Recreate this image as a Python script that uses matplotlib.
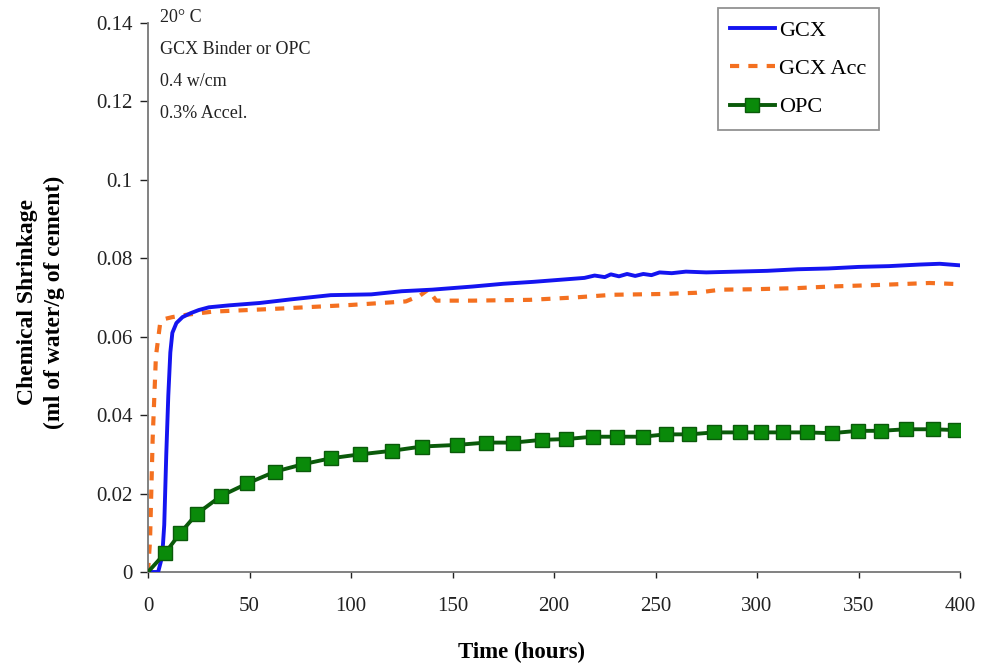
import numpy as np
import matplotlib
matplotlib.use("Agg")
import matplotlib.pyplot as plt

plt.rcParams['font.family'] = ['Liberation Serif', 'DejaVu Serif']

# ---- data ----
gcx_t = [0, 5, 7, 8, 9, 10, 11, 12, 14, 17, 21, 25, 30, 40, 55, 70, 90, 110,
         125, 140, 160, 175, 190, 205, 215, 220, 225, 228, 232, 236, 240, 244,
         248, 252, 258, 265, 275, 290, 305, 320, 335, 350, 365, 380, 390, 400]
gcx_y = [0, 0, 0.004, 0.012, 0.03, 0.045, 0.056, 0.061, 0.0635, 0.065, 0.066,
         0.0668, 0.0675, 0.0680, 0.0686, 0.0695, 0.0706, 0.0708, 0.0716, 0.0720,
         0.0728, 0.0735, 0.0740, 0.0746, 0.0750, 0.0756, 0.0752, 0.0759, 0.0754,
         0.0760, 0.0755, 0.0760, 0.0757, 0.0764, 0.0762, 0.0766, 0.0764, 0.0766,
         0.0768, 0.0772, 0.0774, 0.0778, 0.0780, 0.0784, 0.0786, 0.0782]

acc_t = [0, 1, 2.3, 3.9, 6, 8, 12, 19, 32, 62, 100, 127, 134, 138, 142, 160,
         188, 210, 229, 254, 270, 282, 298, 320, 336, 360, 385, 400]
acc_y = [0, 0.008, 0.034, 0.055, 0.0635, 0.0645, 0.065, 0.0656, 0.0664, 0.0671,
         0.0681, 0.0690, 0.0705, 0.0720, 0.0692, 0.0692, 0.0694, 0.0700, 0.0707,
         0.0709, 0.0712, 0.0720, 0.0721, 0.0724, 0.0728, 0.0732, 0.0737, 0.0734]

opc_t = [0, 8.4, 16, 24, 36, 49, 62.6, 76.5, 90, 104.4, 120, 135, 152, 166.5,
         180, 194, 206, 219, 231, 243.6, 255, 266.6, 279, 291.6, 302, 313,
         324.5, 336.8, 349.6, 361, 373.4, 386.6, 397.5]
opc_y = [0, 0.0048, 0.0100, 0.0148, 0.0194, 0.0226, 0.0256, 0.0275, 0.0290,
         0.0300, 0.0309, 0.0320, 0.0324, 0.0330, 0.0330, 0.0337, 0.0339, 0.0345,
         0.0345, 0.0345, 0.0351, 0.0351, 0.0356, 0.0356, 0.0356, 0.0356, 0.0356,
         0.0354, 0.0360, 0.0360, 0.0364, 0.0364, 0.0362]

x_ticks = [0, 50, 100, 150, 200, 250, 300, 350, 400]
y_ticks = [0, 0.02, 0.04, 0.06, 0.08, 0.1, 0.12, 0.14]
y_tick_labels = ['0', '0.02', '0.04', '0.06', '0.08', '0.1', '0.12', '0.14']
notes = ['20\u00b0 C', 'GCX Binder or OPC', '0.4 w/cm', '0.3% Accel.']

# ---- figure ----
fig = plt.figure(figsize=(9.85, 6.68), dpi=100)
ax = fig.add_axes([148/985, 1 - 572/668, (960-148)/985, (572-23)/668])

ax.plot(gcx_t, gcx_y, color='#1414f0', lw=2.8, label='GCX', zorder=3)
ax.plot(acc_t, acc_y, color='#f47020', lw=3.0, ls=(0, (2.2, 2.2)),
        label='GCX Acc', zorder=2)
ax.plot(opc_t, opc_y, color='#0a5a0a', lw=2.8, marker='s', markersize=10.5,
        markerfacecolor='#0a8a0a', markeredgecolor='#0a5a0a',
        markevery=slice(1, None), label='OPC', zorder=4)

ax.set_xlim(0, 400)
ax.set_ylim(0, 0.14)
ax.set_xticks(x_ticks)
ax.set_yticks(y_ticks)
ax.set_yticklabels(y_tick_labels)
ax.tick_params(labelsize=15, colors='#222222', width=1, direction='out')
ax.tick_params(axis='y', length=6, pad=5)
ax.tick_params(axis='x', length=4, pad=14)
for s in ['top', 'right']:
    ax.spines[s].set_visible(False)
for s in ['left', 'bottom']:
    ax.spines[s].set_color('#777777')
    ax.spines[s].set_linewidth(1.3)

fig.text(522/985, 1 - 652/668, 'Time (hours)', ha='center', va='center',
         fontsize=16.5, fontweight='bold')
fig.text(41/985, 1 - 302/668, 'Chemical Shrinkage\n(ml of water/g of cement)',
         ha='center', va='center', rotation=90, fontsize=17,
         fontweight='bold', linespacing=1.3)

for i, s in enumerate(notes):
    fig.text(160/985, 1 - (18 + i*32)/668, s, ha='left', va='center',
             fontsize=13, color='#222222')

leg = ax.legend(loc='upper left', bbox_to_anchor=(718/985, 1 - 8/668),
                bbox_transform=fig.transFigure, fontsize=16, frameon=True,
                fancybox=False, edgecolor='#777777', handlelength=2.0,
                labelspacing=0.8, handletextpad=0.2, borderpad=0.55,
                borderaxespad=0)
leg.get_frame().set_linewidth(1.3)

fig.savefig('out.png', dpi=100)
